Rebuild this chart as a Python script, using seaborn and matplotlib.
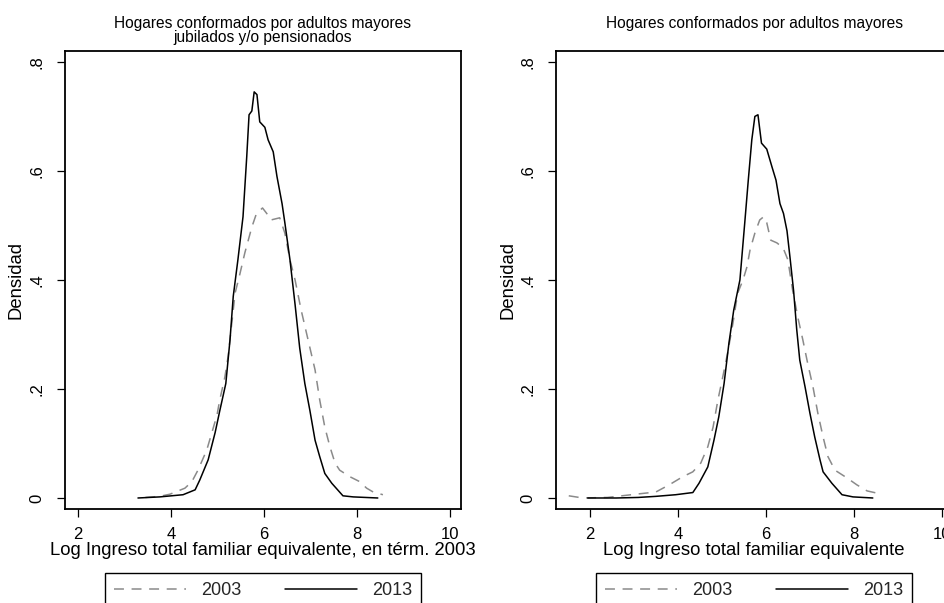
import numpy as np
import pandas as pd
import matplotlib
matplotlib.use('Agg')
import matplotlib.pyplot as plt
import seaborn as sns

# Density curves (log income, density)
left_2003_x = [3.45, 3.76, 3.98, 4.3, 4.45, 4.58, 4.77, 4.88, 4.99, 5.05, 5.16, 5.23, 5.38, 5.48, 5.59, 5.74,
               5.84, 5.97, 6.06, 6.15, 6.34, 6.45, 6.56, 6.67, 6.8, 6.95, 7.1, 7.2, 7.31, 7.42, 7.53, 7.63,
               7.85, 8.06, 8.21, 8.35, 8.56]
left_2003_y = [0.001, 0.003, 0.007, 0.018, 0.03, 0.051, 0.088, 0.12, 0.152, 0.18, 0.222, 0.26, 0.376, 0.41,
               0.45, 0.497, 0.522, 0.532, 0.522, 0.51, 0.514, 0.486, 0.437, 0.4, 0.345, 0.29, 0.235, 0.18,
               0.13, 0.094, 0.064, 0.051, 0.039, 0.03, 0.018, 0.011, 0.006]
left_2013_x = [3.29, 3.76, 4.26, 4.52, 4.62, 4.8, 4.95, 5.05, 5.18, 5.27, 5.34, 5.44, 5.55, 5.63, 5.68, 5.74,
               5.79, 5.85, 5.91, 6.02, 6.09, 6.2, 6.28, 6.39, 6.45, 6.56, 6.67, 6.77, 6.88, 6.99, 7.1, 7.2,
               7.31, 7.46, 7.7, 7.92, 8.45]
left_2013_y = [0.0, 0.002, 0.006, 0.015, 0.033, 0.07, 0.12, 0.16, 0.21, 0.29, 0.37, 0.437, 0.516, 0.626,
               0.703, 0.71, 0.745, 0.74, 0.69, 0.68, 0.657, 0.635, 0.59, 0.54, 0.505, 0.437, 0.355, 0.275,
               0.21, 0.16, 0.106, 0.076, 0.045, 0.027, 0.004, 0.002, 0.0]

right_2003_x = [1.52, 1.84, 2.4, 3.05, 3.5, 3.8, 4.11, 4.34, 4.52, 4.68, 4.8, 4.91, 5.02, 5.14, 5.25, 5.36,
                5.48, 5.57, 5.64, 5.75, 5.86, 5.95, 6.02, 6.11, 6.25, 6.39, 6.5, 6.61, 6.73, 6.84, 6.95,
                7.07, 7.18, 7.3, 7.41, 7.57, 7.84, 8.07, 8.3, 8.52]
right_2003_y = [0.004, 0.0, 0.001, 0.007, 0.011, 0.024, 0.039, 0.048, 0.064, 0.094, 0.13, 0.18, 0.222, 0.27,
                0.32, 0.376, 0.4, 0.424, 0.455, 0.486, 0.51, 0.516, 0.505, 0.473, 0.468, 0.459, 0.437, 0.38,
                0.33, 0.29, 0.247, 0.204, 0.156, 0.112, 0.076, 0.051, 0.037, 0.024, 0.013, 0.009]
right_2013_x = [1.95, 2.6, 3.1, 3.5, 3.95, 4.34, 4.48, 4.68, 4.82, 4.93, 5.05, 5.16, 5.27, 5.41, 5.52, 5.6,
                5.68, 5.75, 5.82, 5.9, 6.02, 6.14, 6.23, 6.32, 6.4, 6.48, 6.55, 6.63, 6.7, 6.77, 6.89, 7.0,
                7.11, 7.23, 7.3, 7.5, 7.73, 7.98, 8.43]
right_2013_y = [0.0, 0.0, 0.001, 0.003, 0.006, 0.01, 0.027, 0.057, 0.106, 0.149, 0.21, 0.284, 0.345, 0.4,
                0.505, 0.583, 0.657, 0.7, 0.703, 0.651, 0.64, 0.607, 0.583, 0.54, 0.522, 0.49, 0.44, 0.38,
                0.31, 0.253, 0.204, 0.156, 0.112, 0.07, 0.048, 0.027, 0.006, 0.002, 0.0]

years = ['2003', '2013']
x_ticks = [2, 4, 6, 8, 10]
y_ticks = [0, 0.2, 0.4, 0.6, 0.8]
y_tick_labels = ['0', '.2', '.4', '.6', '.8']

titles = ['Hogares conformados por adultos mayores\njubilados y/o pensionados',
          'Hogares conformados por adultos mayores']
x_labels = ['Log Ingreso total familiar equivalente, en térm. 2003',
            'Log Ingreso total familiar equivalente']


def long_form(x03, y03, x13, y13):
    d03 = pd.DataFrame({'x': x03, 'y': y03, 'year': '2003'})
    d13 = pd.DataFrame({'x': x13, 'y': y13, 'year': '2013'})
    return pd.concat([d03, d13], ignore_index=True)


panels = [long_form(left_2003_x, left_2003_y, left_2013_x, left_2013_y),
          long_form(right_2003_x, right_2003_y, right_2013_x, right_2013_y)]

sns.set_style('ticks')
plt.rcParams['font.family'] = ['Liberation Sans', 'DejaVu Sans']

fig = plt.figure(figsize=(9.44, 6.03), dpi=100)
W, H = 944, 603
# axes boxes in pixels: left, top, right, bottom
boxes = [(65, 51, 461, 509), (556, 51, 952, 509)]
xlims = [(1.72, 10.24), (1.23, 10.23)]

for i, df in enumerate(panels):
    l, t, r, b = boxes[i]
    ax = fig.add_axes([l / W, 1 - b / H, (r - l) / W, (b - t) / H])
    sns.lineplot(data=df, x='x', y='y', hue='year', style='year', ax=ax,
                 palette={'2003': '#8a8a8a', '2013': 'black'},
                 dashes={'2003': (6.5, 5), '2013': ''},
                 linewidth=1.1, legend=False, estimator=None, sort=False)

    ax.set_xlim(*xlims[i])
    ax.set_ylim(-0.0202, 0.82)
    ax.set_xticks(x_ticks)
    ax.set_yticks(y_ticks)
    ax.set_yticklabels(y_tick_labels, rotation=90, va='center')
    ax.tick_params(axis='both', direction='out', length=6, width=0.9, color='black',
                   labelsize=12, labelcolor='black')
    ax.tick_params(axis='y', pad=9)
    ax.tick_params(axis='x', pad=7)
    for s in ax.spines.values():
        s.set_visible(True)
        s.set_color('black')
        s.set_linewidth(1.3)

    ax.set_xlabel(x_labels[i], fontsize=13.3, labelpad=0, color='black')
    ax.set_ylabel('Densidad', fontsize=13.3, labelpad=3, color='black')
    ax.text(0.5, 1 + (51 - 16) / 458, titles[i], transform=ax.transAxes, ha='center', va='top',
            fontsize=11.2, linespacing=0.88, color='black')

    handles = [plt.Line2D([], [], color='#8a8a8a', lw=1.1, dashes=(6.5, 5)),
               plt.Line2D([], [], color='black', lw=1.1)]
    leg = ax.legend(handles, years, loc='upper center', bbox_to_anchor=(0.5, -(573 - 509) / 458),
                    ncol=2, fontsize=13, frameon=True, fancybox=False, framealpha=1,
                    edgecolor='black', borderaxespad=0, handlelength=4.0, handletextpad=0.83,
                    columnspacing=2.4, borderpad=0.5)
    leg.get_frame().set_linewidth(1.0)

fig.savefig('out.png', dpi=100)
